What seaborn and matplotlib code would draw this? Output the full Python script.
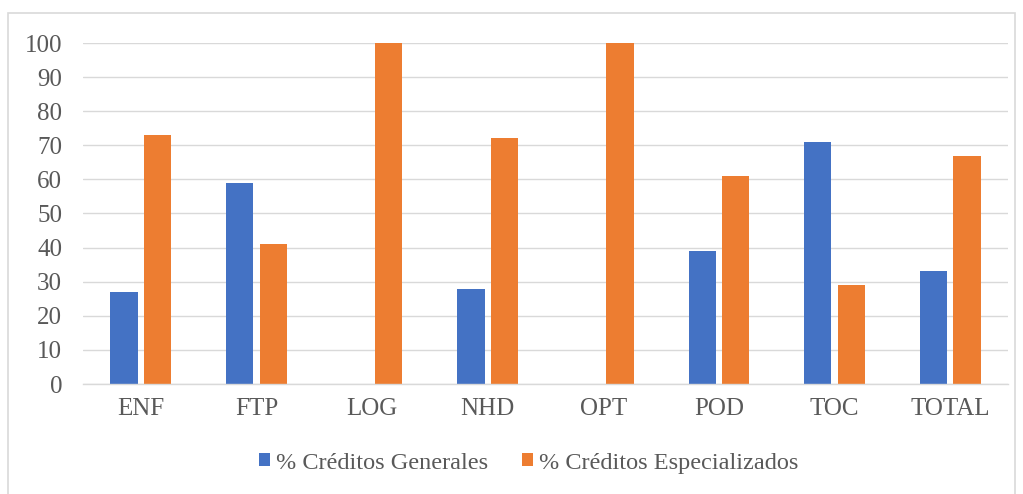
import pandas as pd
import seaborn as sns
import matplotlib.pyplot as plt
from matplotlib.patches import Rectangle

categorias = ["ENF", "FTP", "LOG", "NHD", "OPT", "POD", "TOC", "TOTAL"]
generales = [27, 59, 0, 28, 0, 39, 71, 33]
especializados = [73, 41, 100, 72, 100, 61, 29, 67]
series = ["% Créditos Generales", "% Créditos Especializados"]

df = pd.DataFrame({"categoria": categorias * 2,
                   "valor": generales + especializados,
                   "serie": [series[0]] * len(categorias) + [series[1]] * len(categorias)})

sns.set_style("white")
plt.rcParams["font.family"] = ["Liberation Serif", "DejaVu Serif"]
gris = "#595959"

fig = plt.figure(figsize=(10.23, 4.94), dpi=100)
ax = fig.add_axes([83 / 1023, 1 - 384 / 494, 925 / 1023, 341 / 494])

sns.barplot(data=df, x="categoria", y="valor", hue="serie", hue_order=series,
            palette=["#4472C4", "#ED7D31"], width=0.58, gap=0.19,
            saturation=1, linewidth=0, ax=ax, legend=True)

ax.set_ylim(0, 100)
ax.set_yticks(range(0, 101, 10))
ax.set_xlim(-0.5, len(categorias) - 0.5)
ax.grid(axis="y", color="#D9D9D9", linewidth=1)
ax.set_axisbelow(True)
for s in ["top", "right", "left"]:
    ax.spines[s].set_visible(False)
ax.spines["bottom"].set_color("#D9D9D9")
ax.spines["bottom"].set_linewidth(1)
ax.tick_params(axis="both", length=0, labelsize=18, labelcolor=gris)
ax.tick_params(axis="y", pad=15)
ax.tick_params(axis="x", pad=10)
ax.set_xlabel("")
ax.set_ylabel("")

h, l = ax.get_legend_handles_labels()
ax.legend_.remove()
fig.legend(h, l, loc="center", bbox_to_anchor=(529 / 1023, 1 - 463 / 494), ncol=2,
           frameon=False, fontsize=17.5, labelcolor=gris, handlelength=0.45,
           handleheight=0.45, handletextpad=0.25, columnspacing=1.4)

fig.patches.append(Rectangle((8 / 1023, -0.01), 1007 / 1023, 1 - 13 / 494 + 0.01,
                             transform=fig.transFigure, fill=False,
                             edgecolor="#D9D9D9", linewidth=1.2))

fig.savefig("out.png", dpi=100)
